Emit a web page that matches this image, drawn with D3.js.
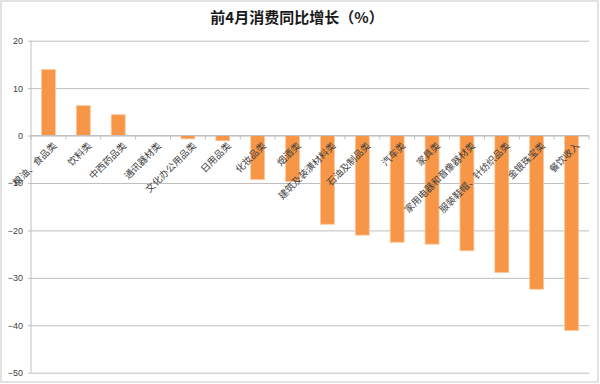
<!DOCTYPE html>
<html>
<head>
<meta charset="utf-8">
<script src="https://cdn.jsdelivr.net/npm/d3@7"></script>
<style>
  body { margin: 0; background: #fff; }
  svg { display: block; }
</style>
</head>
<body>
<div id="chart"></div>
<script>
// categories and values (%)
const categories = ["粮油、食品类", "饮料类", "中西药品类", "通讯器材类", "文化办公用品类", "日用品类",
  "化妆品类", "烟酒类", "建筑及装潢材料类", "石油及制品类", "汽车类", "家具类",
  "家用电器和音像器材类", "服装鞋帽、针纺织品类", "金银珠宝类", "餐饮收入"]
const values = [13.9, 6.3, 4.4, 0, -0.7, -1.1, -9.3, -9.7, -18.7, -21.0, -22.5, -22.9, -24.3, -28.9, -32.4, -41.1]
const yTicks = [20, 10, 0, -10, -20, -30, -40, -50]
const title = "前4月消费同比增长（%）"

const width = 600
const height = 384
const margin = { top: 40.7, right: 11, bottom: 11.3, left: 31 }

const svg = d3.select("#chart")
  .append("svg")
  .attr("width", width)
  .attr("height", height)

// outer chart border
svg.append("rect")
  .attr("x", 1).attr("y", 1)
  .attr("width", width - 3).attr("height", height - 3)
  .attr("fill", "#fff")
  .attr("stroke", "#d9d9d9")
  .attr("stroke-width", 1.5)

const x = d3.scaleBand()
  .domain(categories)
  .range([margin.left, width - margin.right])
  .paddingInner(0.6)
  .paddingOuter(0.3)

const y = d3.scaleLinear()
  .domain([-50, 20])
  .range([height - margin.bottom, margin.top])

// gridlines + y labels
const yAxis = d3.axisLeft(y)
  .tickValues(yTicks)
  .tickSize(-(width - margin.right - margin.left))
  .tickPadding(8)

const gy = svg.append("g")
  .attr("transform", `translate(${margin.left},0)`)
  .call(yAxis)
gy.select(".domain").remove()
gy.selectAll(".tick line")
  .attr("stroke", "#bfbfbf")
  .attr("x1", 3)
  .attr("stroke-width", 1)
gy.selectAll(".tick line").attr("x1", -3)
gy.selectAll(".tick text")
  .attr("font-family", "Arial, 'Liberation Sans', sans-serif")
  .attr("font-size", 9)
  .attr("fill", "#404040")

// left axis line
svg.append("line")
  .attr("x1", margin.left).attr("x2", margin.left)
  .attr("y1", margin.top).attr("y2", height - margin.bottom)
  .attr("stroke", "#bfbfbf")

// bars
svg.append("g")
  .selectAll("rect")
  .data(values)
  .join("rect")
  .attr("x", (d, i) => x(categories[i]))
  .attr("width", x.bandwidth())
  .attr("y", d => y(Math.max(0, d)))
  .attr("height", d => Math.abs(y(d) - y(0)))
  .attr("fill", "#f79646")
  .attr("stroke", "#fbc9a0")
  .attr("stroke-width", 0.8)

// category axis on the zero line
const step = x.step()
const boundaries = d3.range(categories.length + 1).map(i => margin.left + i * step)
svg.append("line")
  .attr("x1", margin.left).attr("x2", width - margin.right)
  .attr("y1", y(0)).attr("y2", y(0))
  .attr("stroke", "#bfbfbf")
svg.append("g")
  .selectAll("line")
  .data(boundaries)
  .join("line")
  .attr("x1", d => d).attr("x2", d => d)
  .attr("y1", y(0)).attr("y2", y(0) + 4)
  .attr("stroke", "#bfbfbf")

svg.append("g")
  .selectAll("text")
  .data(categories)
  .join("text")
  .attr("transform", d => `translate(${x(d) + x.bandwidth() / 2 + 4},${y(0) + 6}) rotate(-45)`)
  .attr("text-anchor", "end")
  .attr("dy", "0.7em")
  .attr("font-family", "'Noto Sans CJK SC', sans-serif")
  .attr("font-size", 9.5)
  .attr("fill", "#404040")
  .text(d => d)

// title
svg.append("text")
  .attr("x", 297)
  .attr("y", 23)
  .attr("text-anchor", "middle")
  .attr("font-family", "'Noto Sans CJK SC', sans-serif")
  .attr("font-weight", "bold")
  .attr("font-size", 15)
  .attr("fill", "#1a1a1a")
  .text(title)
</script>
</body>
</html>
